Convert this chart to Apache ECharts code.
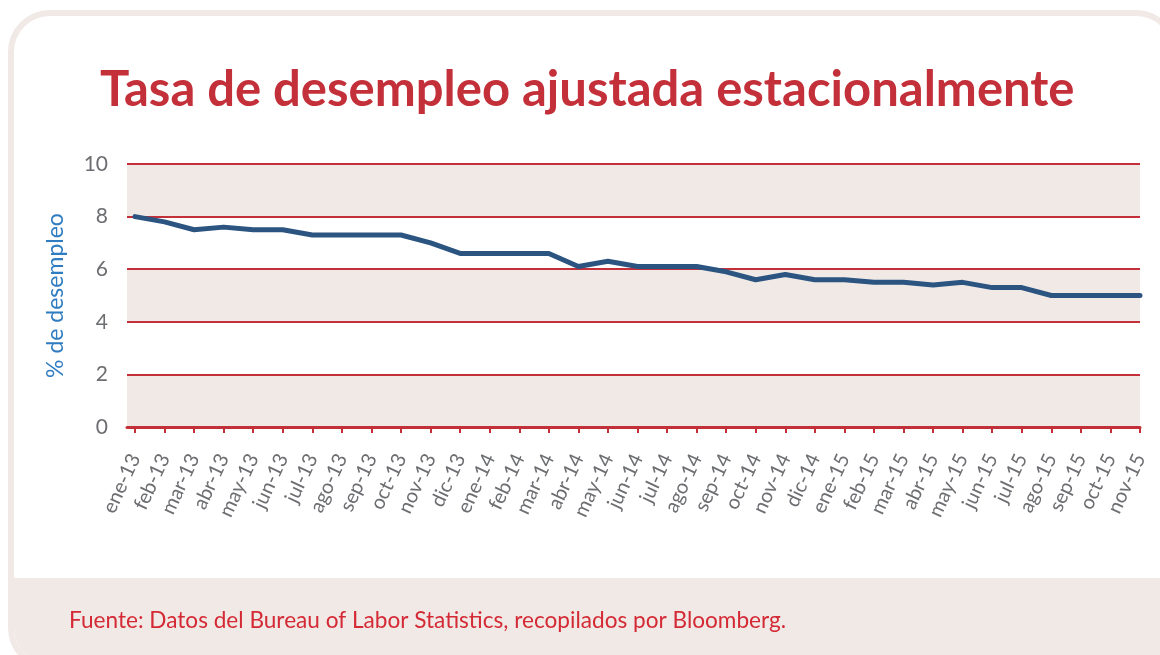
<!DOCTYPE html>
<html>
<head>
<meta charset="utf-8">
<script src="https://cdn.jsdelivr.net/npm/echarts@6/dist/echarts.min.js"></script>
<style>
  html, body { margin: 0; padding: 0; background: #fff; }
  .card {
    position: absolute;
    left: 8px;
    top: 10px;
    width: 1170px;
    height: 660px;
    box-sizing: border-box;
    border: 6px solid #f1e9e6;
    border-radius: 42px;
    overflow: hidden;
    background: #fff;
  }
  .card__foot {
    position: absolute;
    left: 0;
    right: 0;
    top: 562px;
    bottom: 0;
    background: #f1e9e6;
  }
  #chart {
    position: absolute;
    left: 0;
    top: 0;
    width: 1160px;
    height: 655px;
  }
</style>
</head>
<body>
<div class="card"><div class="card__foot"></div></div>
<div id="chart"></div>
<script>
// meses (ene-13 ... nov-15)
var months = [
  "ene-13", "feb-13", "mar-13", "abr-13", "may-13", "jun-13", "jul-13", "ago-13", "sep-13", "oct-13", "nov-13", "dic-13",
  "ene-14", "feb-14", "mar-14", "abr-14", "may-14", "jun-14", "jul-14", "ago-14", "sep-14", "oct-14", "nov-14", "dic-14",
  "ene-15", "feb-15", "mar-15", "abr-15", "may-15", "jun-15", "jul-15", "ago-15", "sep-15", "oct-15", "nov-15"
];
// % de desempleo
var rate = [
  8.0, 7.8, 7.5, 7.6, 7.5, 7.5, 7.3, 7.3, 7.3, 7.3, 7.0, 6.6,
  6.6, 6.6, 6.6, 6.1, 6.3, 6.1, 6.1, 6.1, 5.9, 5.6, 5.8, 5.6,
  5.6, 5.5, 5.5, 5.4, 5.5, 5.3, 5.3, 5.0, 5.0, 5.0, 5.0
];
var yTicks = [0, 2, 4, 6, 8, 10];

var titleText = "Tasa de desempleo ajustada estacionalmente";
var sourceText = "Fuente: Datos del Bureau of Labor Statistics, recopilados por Bloomberg.";

var RED = "#c4303a";
var BEIGE = "#f1e9e6";
var GREY = "#6d6e71";

var idx = months.map(function (m, i) { return i; });
var chart = echarts.init(document.getElementById("chart"));

chart.setOption({
  animation: false,
  title: [
    {
      text: titleText,
      left: 95,
      top: 61,
      textStyle: { fontFamily: "Lato", fontWeight: "bold", fontSize: 49, color: RED }
    },
    {
      text: sourceText,
      left: 64,
      top: 604,
      textStyle: { fontFamily: "Lato", fontWeight: "normal", fontSize: 22.6, color: "#d42a35" }
    }
  ],
  grid: {
    left: 127,
    right: 20,
    top: 164,
    bottom: 228
  },
  xAxis: {
    type: "value",
    min: -0.27,
    max: months.length - 1,
    axisLine: {
      show: true,
      lineStyle: { color: RED, width: 3 }
    },
    axisTick: {
      show: true,
      customValues: idx,
      length: 6,
      lineStyle: { color: RED, width: 2 }
    },
    axisLabel: {
      customValues: idx,
      rotate: 65,
      margin: 28,
      fontFamily: "Lato",
      fontSize: 20,
      color: GREY,
      formatter: function (v) { return months[Math.round(v)]; }
    },
    splitLine: { show: false }
  },
  yAxis: {
    type: "value",
    min: yTicks[0],
    max: yTicks[yTicks.length - 1],
    interval: 2,
    name: "% de desempleo",
    nameLocation: "middle",
    nameGap: 60,
    nameTextStyle: { fontFamily: "Lato", fontSize: 23, color: "#2f7cc0" },
    axisLine: { show: false },
    axisTick: { show: false },
    axisLabel: { fontFamily: "Lato", fontSize: 21, color: GREY, margin: 19 },
    splitLine: { show: true, lineStyle: { color: RED, width: 2 } },
    splitArea: { show: true, areaStyle: { color: [BEIGE, "#ffffff"] } }
  },
  series: [
    {
      type: "line",
      data: rate.map(function (v, i) { return [i, v]; }),
      symbol: "none",
      lineStyle: { color: "#2b5480", width: 5, cap: "round", join: "round" }
    }
  ]
});
</script>
</body>
</html>
